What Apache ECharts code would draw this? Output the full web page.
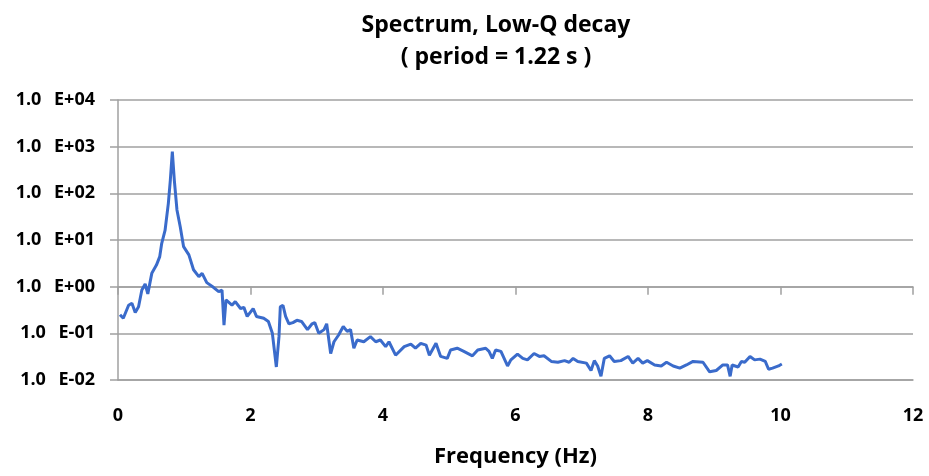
<!DOCTYPE html>
<html>
<head>
<meta charset="utf-8">
<script src="https://cdn.jsdelivr.net/npm/echarts@6/dist/echarts.min.js"></script>
<style>
  html, body { margin: 0; padding: 0; background: #fff; }
  #chart { width: 929px; height: 476px; }
</style>
</head>
<body>
<div id="chart"></div>
<script>
// frequency (Hz) and spectral amplitude
var freq = [0.03, 0.08, 0.16, 0.21, 0.26, 0.31, 0.36, 0.41, 0.45, 0.51, 0.58, 0.63, 0.66, 0.71, 0.76, 0.79, 0.82, 0.85, 0.89, 0.94,
    0.99, 1.07, 1.14, 1.22, 1.27, 1.34, 1.44, 1.52, 1.57, 1.60, 1.63, 1.72, 1.77, 1.85, 1.90, 1.95, 2.04, 2.09, 2.20, 2.27,
    2.33, 2.39, 2.43, 2.45, 2.49, 2.53, 2.58, 2.64, 2.70, 2.77, 2.86, 2.93, 2.97, 3.03, 3.11, 3.15, 3.21, 3.26, 3.33, 3.40,
    3.46, 3.51, 3.56, 3.61, 3.71, 3.81, 3.89, 3.96, 4.04, 4.09, 4.19, 4.32, 4.42, 4.49, 4.57, 4.65, 4.70, 4.80, 4.87, 4.97,
    5.02, 5.12, 5.22, 5.35, 5.43, 5.55, 5.60, 5.65, 5.70, 5.78, 5.88, 5.93, 6.03, 6.11, 6.18, 6.28, 6.36, 6.43, 6.54, 6.64,
    6.74, 6.81, 6.87, 6.94, 7.07, 7.14, 7.19, 7.24, 7.29, 7.34, 7.42, 7.49, 7.59, 7.70, 7.77, 7.85, 7.92, 7.99, 8.10, 8.20,
    8.28, 8.38, 8.48, 8.58, 8.68, 8.83, 8.93, 9.03, 9.13, 9.20, 9.24, 9.27, 9.36, 9.41, 9.46, 9.54, 9.61, 9.69, 9.77, 9.82,
    9.88, 9.97, 10.02];
var amp = [0.25, 0.21, 0.40, 0.44, 0.28, 0.37, 0.85, 1.14, 0.70, 1.93, 2.9, 4.4, 8.5, 16, 61, 193, 780, 193, 44, 19,
    7.2, 4.8, 2.3, 1.64, 1.93, 1.22, 0.97, 0.78, 0.85, 0.15, 0.52, 0.40, 0.48, 0.34, 0.36, 0.23, 0.34, 0.23, 0.21, 0.18,
    0.10, 0.019, 0.085, 0.37, 0.40, 0.23, 0.16, 0.17, 0.19, 0.18, 0.12, 0.16, 0.17, 0.10, 0.12, 0.16, 0.037, 0.066, 0.092, 0.14,
    0.11, 0.12, 0.048, 0.072, 0.066, 0.085, 0.066, 0.072, 0.052, 0.066, 0.034, 0.052, 0.059, 0.048, 0.061, 0.056, 0.034, 0.061, 0.032, 0.029,
    0.044, 0.048, 0.041, 0.033, 0.044, 0.048, 0.041, 0.029, 0.044, 0.041, 0.020, 0.027, 0.036, 0.029, 0.027, 0.037, 0.032, 0.033, 0.025, 0.024,
    0.026, 0.024, 0.029, 0.025, 0.023, 0.016, 0.026, 0.020, 0.012, 0.029, 0.033, 0.025, 0.026, 0.032, 0.023, 0.029, 0.023, 0.026, 0.021, 0.020,
    0.024, 0.020, 0.018, 0.021, 0.025, 0.024, 0.015, 0.016, 0.021, 0.021, 0.012, 0.021, 0.019, 0.025, 0.024, 0.032, 0.027, 0.028, 0.025, 0.017,
    0.018, 0.020, 0.022];
var yMantissa = ['1.0', '1.0', '1.0', '1.0', '1.0', '1.0', '1.0'];
var yExponent = ['E-02', 'E-01', 'E+00', 'E+01', 'E+02', 'E+03', 'E+04'];

var points = [];
for (var i = 0; i < freq.length; i++) {
    points.push([freq[i], amp[i]]);
}

var font = 'Open Sans';
var gray = '#a0a0a0';
var myChart = echarts.init(document.getElementById('chart'));
var option = {
    animation: false,
    title: {
        text: 'Spectrum, Low-Q decay\n( period = 1.22 s )',
        left: 491,
        top: 4,
        textAlign: 'center',
        textStyle: {
            fontFamily: font,
            fontWeight: 'bold',
            fontSize: 23,
            lineHeight: 32,
            color: '#000'
        }
    },
    grid: [{
        left: 118,
        right: 16,
        top: 100,
        bottom: 96
    }, {
        // upper part only, its bottom edge is the 1.0 E+00 line where Excel crosses the x axis
        left: 118,
        right: 16,
        top: 100,
        bottom: 189.33
    }],
    xAxis: [{
        type: 'value',
        gridIndex: 0,
        min: 0,
        max: 12,
        interval: 2,
        name: 'Frequency (Hz)',
        nameLocation: 'middle',
        nameGap: 66,
        nameTextStyle: {fontFamily: font, fontWeight: 'bold', fontSize: 22, color: '#000'},
        axisLine: {show: true, lineStyle: {color: gray, width: 1.5}},
        axisTick: {show: false},
        splitLine: {show: false},
        axisLabel: {margin: 27, fontFamily: font, fontWeight: 'bold', fontSize: 18, color: '#000'}
    }, {
        type: 'value',
        gridIndex: 1,
        min: 0,
        max: 12,
        interval: 2,
        position: 'bottom',
        axisLine: {show: true, lineStyle: {color: gray, width: 1.5}},
        axisTick: {show: true, length: 8, lineStyle: {color: gray, width: 1.5}},
        axisLabel: {show: false},
        splitLine: {show: false}
    }],
    yAxis: [{
        type: 'log',
        gridIndex: 0,
        logBase: 10,
        min: 0.01,
        max: 10000,
        axisLine: {show: true, lineStyle: {color: gray, width: 1.5}},
        axisTick: {show: true, length: 8, lineStyle: {color: gray, width: 1.5}},
        splitLine: {show: true, lineStyle: {color: gray, width: 1.5}},
        axisLabel: {
            margin: 23,
            fontFamily: font,
            fontWeight: 'bold',
            fontSize: 18,
            color: '#000',
            formatter: function (v) {
                var k = Math.round(Math.log10(v)) + 2;
                return '{m|' + yMantissa[k] + '} {e|' + yExponent[k] + '}';
            },
            rich: {
                m: {fontFamily: font, fontWeight: 'bold', fontSize: 18, color: '#000'},
                e: {fontFamily: font, fontWeight: 'bold', fontSize: 18, color: '#000', padding: [0, 0, 0, 8]}
            }
        }
    }, {
        type: 'log',
        gridIndex: 1,
        min: 1,
        max: 10000,
        show: false
    }],
    series: [{
        type: 'line',
        xAxisIndex: 0,
        yAxisIndex: 0,
        data: points,
        showSymbol: false,
        symbol: 'none',
        lineStyle: {color: '#3a6bcb', width: 3},
        z: 5
    }]
};
myChart.setOption(option);
</script>
</body>
</html>
